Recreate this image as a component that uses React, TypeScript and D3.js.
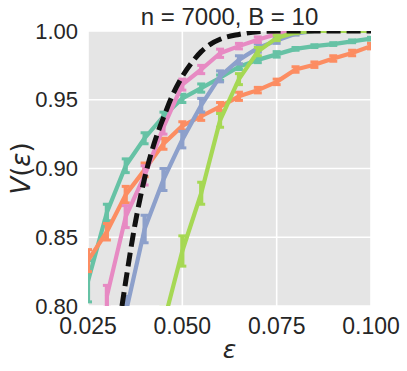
import React from "react";
import * as d3 from "d3";

const epsValues = [0.025, 0.03, 0.035, 0.04, 0.045, 0.05, 0.055, 0.06, 0.065, 0.07, 0.075, 0.08, 0.085, 0.09, 0.095, 0.1];

// null = point lies below the visible range
const greenV = [0.818, 0.868, 0.902, 0.922, 0.938, 0.951, 0.9585, 0.966, 0.974, 0.979, 0.983, 0.987, 0.989, 0.9905, 0.9925, 0.9944];
const greenErr = [0.015, 0.006, 0.005, 0.004, 0.003, 0.003, 0.003, 0.002, 0.002, 0.002, 0.002, 0.001, 0.001, 0.001, 0.001, 0.001];
const orangeV = [0.833, 0.854, 0.881, 0.899, 0.918, 0.931, 0.938, 0.945, 0.9525, 0.957, 0.963, 0.972, 0.9755, 0.98, 0.984, 0.989];
const orangeErr = [0.008, 0.006, 0.006, 0.005, 0.004, 0.003, 0.003, 0.003, 0.003, 0.002, 0.002, 0.002, 0.002, 0.002, 0.002, 0.002];
const blueV = [null, null, 0.795, 0.856, 0.892, 0.921, 0.946, 0.967, 0.979, 0.9876, 0.993, 0.998, 1.0, 1.0, 1.0, 1.0];
const blueErr = [0, 0, 0.012, 0.01, 0.008, 0.006, 0.005, 0.004, 0.003, 0.003, 0.002, 0.001, 0, 0, 0, 0];
const pinkV = [null, 0.807, 0.865, 0.895, 0.93, 0.961, 0.972, 0.9838, 0.989, 0.9937, 0.9978, 1.0, 1.0, 1.0, 1.0, 1.0];
const pinkErr = [0, 0.008, 0.008, 0.007, 0.005, 0.004, 0.003, 0.003, 0.002, 0.002, 0.001, 0, 0, 0, 0, 0];
const limeV = [null, null, null, null, 0.787, 0.84, 0.882, 0.935, 0.965, 0.985, 0.995, 0.999, 1.0, 1.0, 1.0, 1.0];
const limeErr = [0, 0, 0, 0, 0.012, 0.011, 0.008, 0.005, 0.004, 0.003, 0.002, 0.001, 0, 0, 0, 0];

// dashed reference curve
const refEps = [0.034, 0.035, 0.0375, 0.04, 0.0425, 0.045, 0.0475, 0.05, 0.0525, 0.055, 0.0575, 0.06, 0.065, 0.07, 0.075, 0.1];
const refV = [0.8, 0.818, 0.86, 0.893, 0.918, 0.937, 0.954, 0.967, 0.977, 0.985, 0.9905, 0.994, 0.9975, 0.9995, 1.0, 1.0];

const xTicks = [0.025, 0.05, 0.075, 0.1];
const yTicks = [0.8, 0.85, 0.9, 0.95, 1.0];

const series = [
  { name: "green", color: "#66c2a5", v: greenV, err: greenErr },
  { name: "orange", color: "#fc8d62", v: orangeV, err: orangeErr },
  { name: "blue", color: "#8da0cb", v: blueV, err: blueErr },
  { name: "pink", color: "#e78ac3", v: pinkV, err: pinkErr },
  { name: "lime", color: "#a6d854", v: limeV, err: limeErr },
];

export default function App() {
  const width = 407;
  const height = 371;
  const margin = { top: 31, right: 36, bottom: 65, left: 88 };

  const x = d3.scaleLinear().domain([0.025, 0.1]).range([margin.left, width - margin.right]);
  const y = d3.scaleLinear().domain([0.8, 1.0]).range([height - margin.bottom, margin.top]);

  const line = d3
    .line<[number, number | null]>()
    .defined((d) => d[1] !== null)
    .x((d) => x(d[0]))
    .y((d) => y(d[1] as number));

  const refLine = d3
    .line<[number, number]>()
    .x((d) => x(d[0]))
    .y((d) => y(d[1]))
    .curve(d3.curveMonotoneX);

  const font = "'Liberation Sans', Arial, sans-serif";
  const textColor = "#262626";
  const cap = 4;

  return (
    <svg width={width} height={height} style={{ position: "absolute", left: 0, top: 0 }}>
      <defs>
        <clipPath id="plot">
          <rect x={margin.left} y={margin.top} width={width - margin.left - margin.right} height={height - margin.top - margin.bottom} />
        </clipPath>
      </defs>
      <rect x={margin.left} y={margin.top} width={width - margin.left - margin.right} height={height - margin.top - margin.bottom} fill="#e5e5e5" />
      {xTicks.map((t) => (
        <line key={"gx" + t} x1={x(t)} x2={x(t)} y1={margin.top} y2={height - margin.bottom} stroke="#fff" strokeWidth={1.6} />
      ))}
      {yTicks.map((t) => (
        <line key={"gy" + t} x1={margin.left} x2={width - margin.right} y1={y(t)} y2={y(t)} stroke="#fff" strokeWidth={1.6} />
      ))}

      <g clipPath="url(#plot)">
        {series.map((s) => {
          const pts = epsValues.map((e, i) => [e, s.v[i]] as [number, number | null]);
          return (
            <g key={s.name}>
              <path d={line(pts) || ""} fill="none" stroke={s.color} strokeWidth={4.2} strokeLinejoin="round" />
              {epsValues.map((e, i) => {
                const v = s.v[i];
                if (v === null) return null;
                const cx = x(e);
                const y1 = y(v - s.err[i]);
                const y2 = y(v + s.err[i]);
                return (
                  <g key={i} stroke={s.color}>
                    <line x1={cx} x2={cx} y1={y1} y2={y2} strokeWidth={4.2} />
                    <line x1={cx - cap} x2={cx + cap} y1={y1} y2={y1} strokeWidth={3} />
                    <line x1={cx - cap} x2={cx + cap} y1={y2} y2={y2} strokeWidth={3} />
                  </g>
                );
              })}
            </g>
          );
        })}
        <path
          d={refLine(refEps.map((e, i) => [e, refV[i]] as [number, number])) || ""}
          fill="none"
          stroke="#111"
          strokeWidth={5}
          strokeDasharray="14,6"
        />
      </g>

      {xTicks.map((t) => (
        <text key={"tx" + t} x={x(t)} y={334} textAnchor="middle" fontFamily={font} fontSize={23} fill={textColor}>
          {d3.format(".3f")(t)}
        </text>
      ))}
      {yTicks.map((t) => (
        <text key={"ty" + t} x={margin.left - 10} y={y(t)} textAnchor="end" dominantBaseline="central" fontFamily={font} fontSize={22} fill={textColor}>
          {d3.format(".2f")(t)}
        </text>
      ))}

      <text x={(margin.left + width - margin.right) / 2} y={25} textAnchor="middle" fontFamily={font} fontSize={24} fill={textColor}>
        n = 7000, B = 10
      </text>
      <text x={(margin.left + width - margin.right) / 2} y={358} textAnchor="middle" fontFamily="'DejaVu Sans', sans-serif" fontStyle="italic" fontSize={25} fill={textColor}>
        ε
      </text>
      <text
        transform={`translate(30,${(margin.top + height - margin.bottom) / 2}) rotate(-90)`}
        textAnchor="middle"
        fontFamily="'DejaVu Sans', sans-serif"
        fontSize={26}
        fill={textColor}
      >
        <tspan fontStyle="italic">V</tspan>(<tspan fontStyle="italic">ε</tspan>)
      </text>
    </svg>
  );
}
